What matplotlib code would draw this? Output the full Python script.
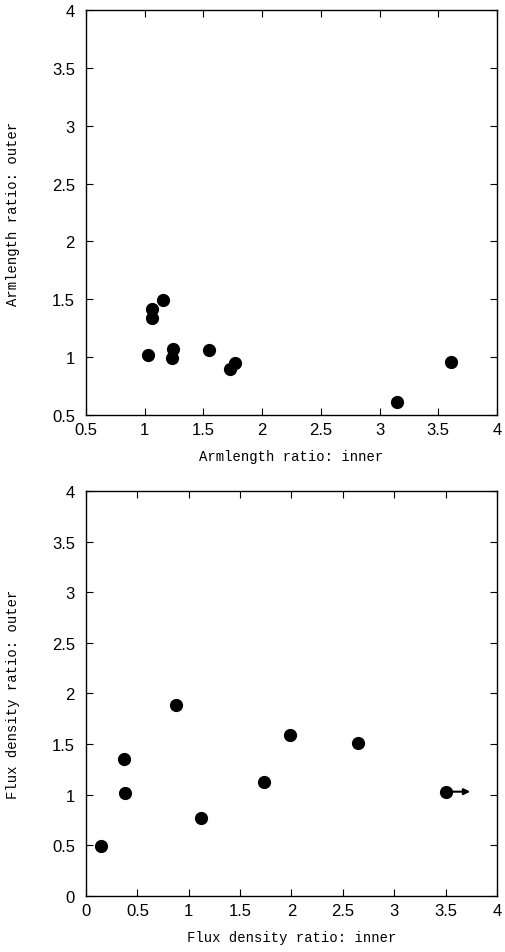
import numpy as np
import matplotlib.pyplot as plt

# armlength ratios (inner vs outer)
arm_inner = [1.16, 1.06, 1.06, 1.03, 1.24, 1.23, 1.55, 1.77, 1.73, 3.15, 3.61]
arm_outer = [1.49, 1.42, 1.34, 1.02, 1.07, 0.99, 1.06, 0.95, 0.90, 0.61, 0.96]

# flux density ratios (inner vs outer); last one is a lower limit in x
flux_inner = [0.15, 0.37, 0.38, 0.88, 1.12, 1.73, 1.99, 2.65, 3.50]
flux_outer = [0.49, 1.35, 1.02, 1.89, 0.77, 1.13, 1.59, 1.51, 1.03]
limit_end = 3.74

arm_ticks = [0.5, 1, 1.5, 2, 2.5, 3, 3.5, 4]
flux_ticks = [0, 0.5, 1, 1.5, 2, 2.5, 3, 3.5, 4]

plt.rcParams['font.family'] = ['Liberation Sans', 'DejaVu Sans']

fig = plt.figure(figsize=(5.06, 9.53), dpi=100)
ax0 = fig.add_axes([0.170, 0.5635, 0.812, 0.425])
ax1 = fig.add_axes([0.170, 0.0588, 0.812, 0.425])


def style(ax, ticks, xlabel, ylabel):
    ax.set_xlim(ticks[0], ticks[-1])
    ax.set_ylim(ticks[0], ticks[-1])
    labels = ['%g' % t for t in ticks]
    ax.set_xticks(ticks)
    ax.set_xticklabels(labels)
    ax.set_yticks(ticks)
    ax.set_yticklabels(labels)
    ax.tick_params(direction='in', length=5, width=0.8, top=True, right=True,
                   labelsize=12)
    ax.tick_params(axis='x', pad=5)
    ax.tick_params(axis='y', pad=8)
    for s in ax.spines.values():
        s.set_linewidth(1.0)
    ax.set_xlabel(xlabel, family='Liberation Mono', fontsize=10)
    ax.set_ylabel(ylabel, family='Liberation Mono', fontsize=10)
    ax.xaxis.set_label_coords(0.5, -0.085)
    ax.yaxis.set_label_coords(-0.16, 0.5)


ax0.plot(arm_inner, arm_outer, 'o', color='black', markersize=8.5)
style(ax0, arm_ticks, 'Armlength ratio: inner', 'Armlength ratio: outer')

ax1.plot(flux_inner, flux_outer, 'o', color='black', markersize=8.5)
ax1.annotate('', xy=(limit_end, flux_outer[-1]),
             xytext=(flux_inner[-1], flux_outer[-1]),
             arrowprops=dict(arrowstyle='-|>', color='black', lw=1.5,
                             mutation_scale=9, shrinkA=0, shrinkB=0))
style(ax1, flux_ticks, 'Flux density ratio: inner', 'Flux density ratio: outer')

fig.savefig('out.png', dpi=100)
